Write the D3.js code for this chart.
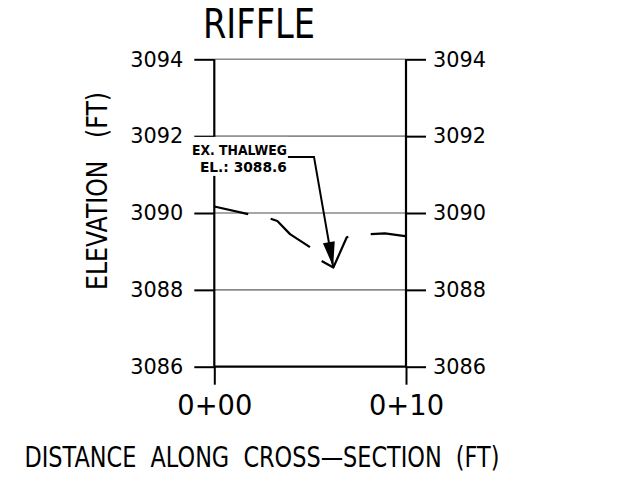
<!DOCTYPE html>
<html lang="en">
<head>
  <meta charset="UTF-8">
  <title>Riffle Cross-Section</title>
  <script src="https://d3js.org/d3.v7.min.js"></script>
  <style>
    body { margin: 0; background: #fff; }
    svg text { font-family: "DejaVu Sans", sans-serif; fill: #000; white-space: pre; }
    .grid line { stroke: #8a8a8a; stroke-width: 1.6; }
    .axis path { display: none; }
    .axis line { stroke: #000; stroke-width: 2; }
    .ground { fill: none; stroke: #000; stroke-width: 2.2; stroke-linejoin: round; }
  </style>
</head>
<body>
  <svg id="chart" width="623" height="487"></svg>
  <script>
    // chart values
    const yTicks = [3086, 3088, 3090, 3092, 3094];
    const xTicks = [0, 10];
    const xTickLabels = ["0+00", "0+10"];
    // existing ground profile, drawn as broken pieces
    const segStations = [[0, 1.77], [2.94, 3.29, 3.95, 4.99], [5.60, 6.21, 6.91, 6.99], [8.16, 8.90, 9.95]];
    const segElevations = [[3090.17, 3089.97], [3089.85, 3089.79, 3089.45, 3089.11],
                           [3088.75, 3088.58, 3089.37, 3089.38], [3089.45, 3089.47, 3089.40]];
    const thalwegStation = 6.2, thalwegElev = 3088.6;
    const calloutLines = ["EX. THALWEG", "EL.: 3088.6"];
    const calloutStation = 3.84, calloutElev = 3091.46, bendStation = 5.2;

    const margin = { top: 59.3, left: 214.3 };
    const width = 191.7, height = 307.4;

    const svg = d3.select("#chart");
    const x = d3.scaleLinear().domain([0, 10]).range([margin.left, margin.left + width]);
    const y = d3.scaleLinear().domain([3086, 3094]).range([margin.top + height, margin.top]);

    // grey grid
    svg.append("g").attr("class", "grid")
      .selectAll("line").data(yTicks.slice(1)).join("line")
      .attr("x1", x(0)).attr("x2", x(10))
      .attr("y1", d => y(d)).attr("y2", d => y(d));

    // bottom black line
    svg.append("line")
      .attr("x1", x(0)).attr("x2", x(10)).attr("y1", y(3086)).attr("y2", y(3086))
      .attr("stroke", "#000").attr("stroke-width", 2.2);

    // left / right axes
    const left = svg.append("g").attr("class", "axis")
      .attr("transform", `translate(${x(0)},0)`)
      .call(d3.axisLeft(y).tickValues(yTicks).tickSize(20).tickPadding(11).tickFormat(d3.format("d")));
    const right = svg.append("g").attr("class", "axis")
      .attr("transform", `translate(${x(10)},0)`)
      .call(d3.axisRight(y).tickValues(yTicks).tickSize(20).tickPadding(7).tickFormat(d3.format("d")));
    [left, right].forEach(g => g.selectAll("text")
      .attr("font-size", 21).attr("textLength", 53).attr("lengthAdjust", "spacingAndGlyphs"));

    // bottom axis: ticks are the downward extensions of the verticals
    const bottom = svg.append("g").attr("class", "axis")
      .attr("transform", `translate(0,${y(3086)})`)
      .call(d3.axisBottom(x).tickValues(xTicks).tickSize(18).tickPadding(10)
        .tickFormat((d, i) => xTickLabels[i]));
    bottom.selectAll("text").attr("font-size", 28).attr("textLength", 75)
      .attr("lengthAdjust", "spacingAndGlyphs");

    // vertical frame lines
    svg.append("g").selectAll("line").data([0, 10]).join("line")
      .attr("x1", d => x(d)).attr("x2", d => x(d))
      .attr("y1", y(3094)).attr("y2", y(3086))
      .attr("stroke", "#000").attr("stroke-width", 2.2);

    // ground profile
    const line = d3.line().x(d => x(d[0])).y(d => y(d[1]));
    svg.append("g").selectAll("path")
      .data(segStations.map((s, i) => s.map((v, j) => [v, segElevations[i][j]])))
      .join("path").attr("class", "ground").attr("d", line);

    // callout with white mask over the frame
    const cx = x(calloutStation), cy = y(calloutElev);
    svg.append("rect").attr("x", cx - 100).attr("y", cy - 20).attr("width", 100).attr("height", 39)
      .attr("fill", "#fff");
    svg.append("g").selectAll("text").data(calloutLines).join("text")
      .attr("x", cx - 1).attr("y", (d, i) => cy - 2 + i * 17)
      .attr("text-anchor", "end").attr("font-size", 14).attr("font-weight", "bold")
      .attr("textLength", (d, i) => i === 0 ? 95 : 87).attr("lengthAdjust", "spacingAndGlyphs")
      .text(d => d);

    const tipX = x(thalwegStation), tipY = y(thalwegElev);
    const bx = x(bendStation);
    svg.append("path")
      .attr("d", d3.line()([[cx, cy], [bx, cy], [tipX, tipY]]))
      .attr("fill", "none").attr("stroke", "#000").attr("stroke-width", 2);
    // arrow head
    const dx = tipX - bx, dy = tipY - cy, len = Math.hypot(dx, dy);
    const ux = dx / len, uy = dy / len, hl = 25, hw = 6;
    const baseX = tipX - ux * hl, baseY = tipY - uy * hl;
    svg.append("path")
      .attr("d", d3.line()([[tipX, tipY], [baseX - uy * hw, baseY + ux * hw], [baseX + uy * hw, baseY - ux * hw]]) + "Z")
      .attr("fill", "#000");

    // titles
    svg.append("text").attr("x", 259).attr("y", 38).attr("text-anchor", "middle")
      .attr("font-size", 40).attr("textLength", 112).attr("lengthAdjust", "spacingAndGlyphs")
      .text("RIFFLE");
    svg.append("text").attr("x", 262).attr("y", 467).attr("text-anchor", "middle")
      .attr("font-size", 28).attr("textLength", 475).attr("lengthAdjust", "spacingAndGlyphs")
      .text("DISTANCE  ALONG  CROSS\u2014SECTION  (FT)");
    svg.append("text").attr("transform", "translate(107,191) rotate(-90)")
      .attr("text-anchor", "middle").attr("font-size", 29)
      .attr("textLength", 198).attr("lengthAdjust", "spacingAndGlyphs")
      .text("ELEVATION   (FT)");
  </script>
</body>
</html>
